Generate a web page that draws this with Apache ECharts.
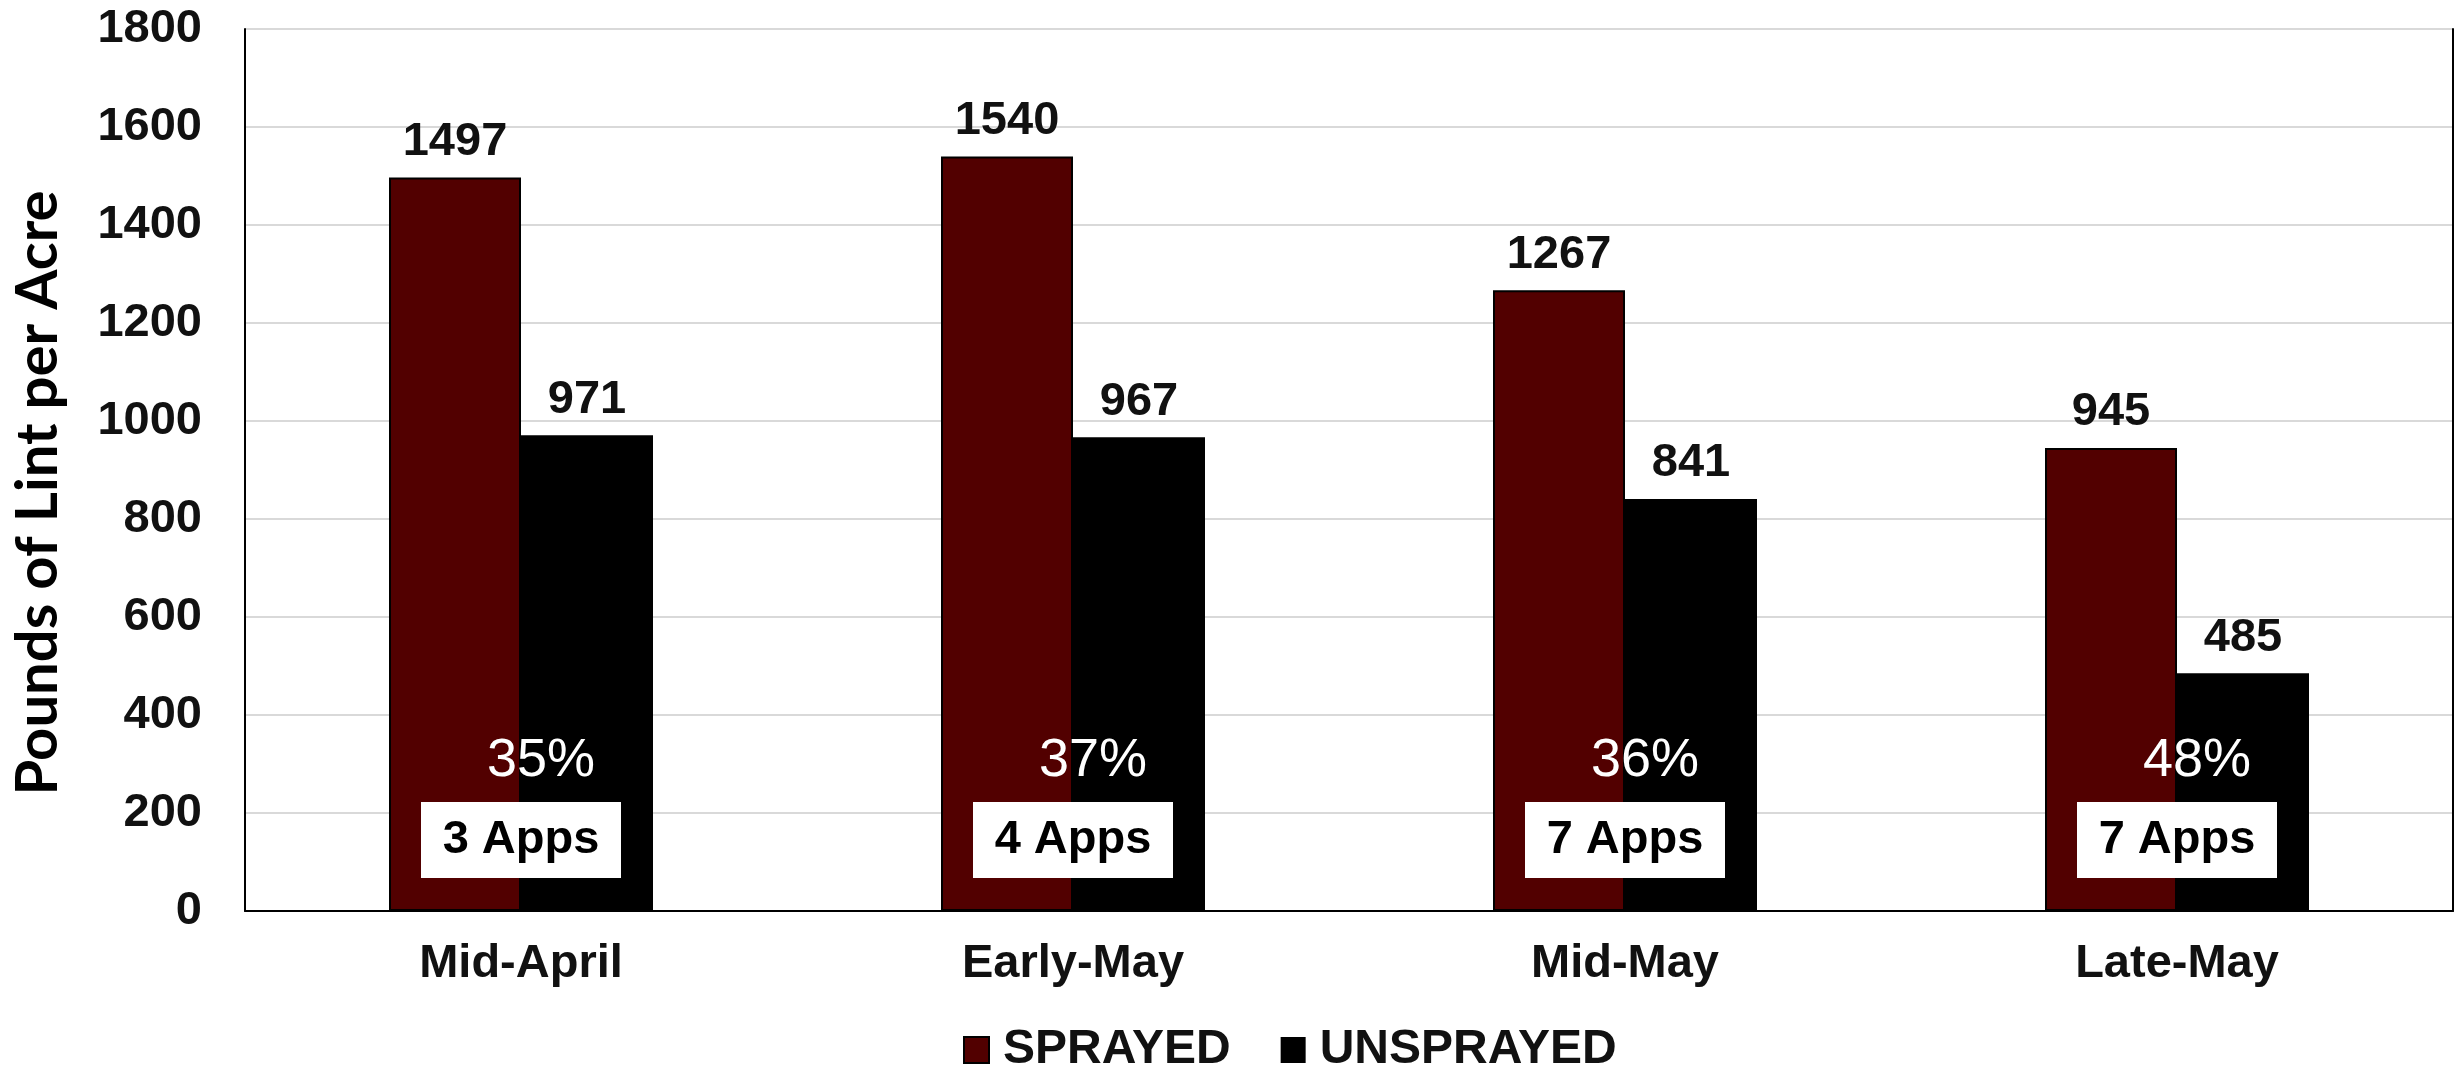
<!DOCTYPE html>
<html>
<head>
<meta charset="utf-8">
<script src="https://cdn.jsdelivr.net/npm/echarts@6/dist/echarts.min.js"></script>
<style>
html,body{margin:0;padding:0;background:#fff;}
#chart{width:2463px;height:1068px;}
</style>
</head>
<body>
<div id="chart"></div>
<script>
const categories = ['Mid-April', 'Early-May', 'Mid-May', 'Late-May'];
const sprayed = [1497, 1540, 1267, 945];
const unsprayed = [971, 967, 841, 485];
const pctLabels = ['35%', '37%', '36%', '48%'];
const appsLabels = ['3 Apps', '4 Apps', '7 Apps', '7 Apps'];
const yTicks = [0, 200, 400, 600, 800, 1000, 1200, 1400, 1600, 1800];
const yTitle = 'Pounds of Lint per Acre';

const PCT_Y = 306;
const APPS_Y = 145;
const FONT = "'Liberation Sans', Arial, sans-serif";

const chart = echarts.init(document.getElementById('chart'));
chart.setOption({
  animation: false,
  backgroundColor: '#fff',
  grid: { left: 245, right: 10, top: 29, bottom: 157, containLabel: false, outerBoundsMode: 'none' },
  legend: {
    data: ['SPRAYED', 'UNSPRAYED'],
    left: 958, top: 1021,
    itemWidth: 25, itemHeight: 26, itemGap: 50,
    icon: 'rect',
    textStyle: { fontFamily: FONT, fontSize: 48, fontWeight: 'bold', color: '#111', padding: [0, 0, 0, 9] }
  },
  graphic: [{
    type: 'text', rotation: Math.PI / 2,
    x: 38, y: 493,
    style: { text: yTitle, font: "bold 58px Lato, 'Open Sans', sans-serif", fill: '#000',
      textAlign: 'center', textVerticalAlign: 'middle' }
  }],
  xAxis: [{
    type: 'category', data: categories,
    axisLine: { show: false }, axisTick: { show: false },
    axisLabel: { fontFamily: FONT, fontSize: 47, fontWeight: 'bold', color: '#111', margin: 30 }
  }, {
    type: 'category', data: categories, position: 'top',
    axisLine: { show: true, lineStyle: { color: '#000', width: 2 } },
    axisTick: { show: false }, axisLabel: { show: false }
  }],
  yAxis: [{
    type: 'value', min: yTicks[0], max: yTicks[yTicks.length - 1], interval: 200,
    axisLine: { show: true, lineStyle: { color: '#000', width: 2 } },
    axisTick: { show: false },
    splitLine: { show: true, lineStyle: { color: '#d9d9d9', width: 2 } },
    axisLabel: { fontFamily: FONT, fontSize: 47, fontWeight: 'bold', color: '#111', margin: 43,
      formatter: v => String(v) }
  }, {
    type: 'value', min: 0, max: 1800, interval: 200, position: 'right',
    axisLine: { show: true, lineStyle: { color: '#000', width: 2 } },
    axisTick: { show: false }, axisLabel: { show: false }, splitLine: { show: false }
  }],
  series: [{
    name: 'SPRAYED', type: 'bar', data: sprayed, barWidth: 132, barGap: '0%',
    itemStyle: { color: '#520000', borderColor: '#000', borderWidth: 2 },
    label: { show: true, position: 'top', distance: 12, fontFamily: FONT, fontSize: 47, fontWeight: 'bold', color: '#111' }
  }, {
    name: 'UNSPRAYED', type: 'bar', data: unsprayed, barWidth: 132,
    itemStyle: { color: '#000' },
    label: { show: true, position: 'top', distance: 12, fontFamily: FONT, fontSize: 47, fontWeight: 'bold', color: '#111' }
  }, {
    type: 'scatter', silent: true, z: 5,
    data: categories.map((c) => [c, PCT_Y]),
    symbolSize: 0, itemStyle: { color: '#fff' },
    label: { show: true, position: 'inside', offset: [20, 0], formatter: p => pctLabels[p.dataIndex],
      fontFamily: FONT, fontSize: 54, fontWeight: 'normal', color: '#fff', opacity: 1,
      textBorderWidth: 0 }
  }, {
    type: 'scatter', silent: true, z: 6,
    data: categories.map((c) => [c, APPS_Y]),
    symbol: 'rect', symbolSize: [200, 76], itemStyle: { color: '#fff', opacity: 1 },
    label: { show: true, position: 'inside', formatter: p => appsLabels[p.dataIndex],
      fontFamily: FONT, fontSize: 47, fontWeight: 'bold', color: '#000' }
  }]
});
</script>
</body>
</html>
